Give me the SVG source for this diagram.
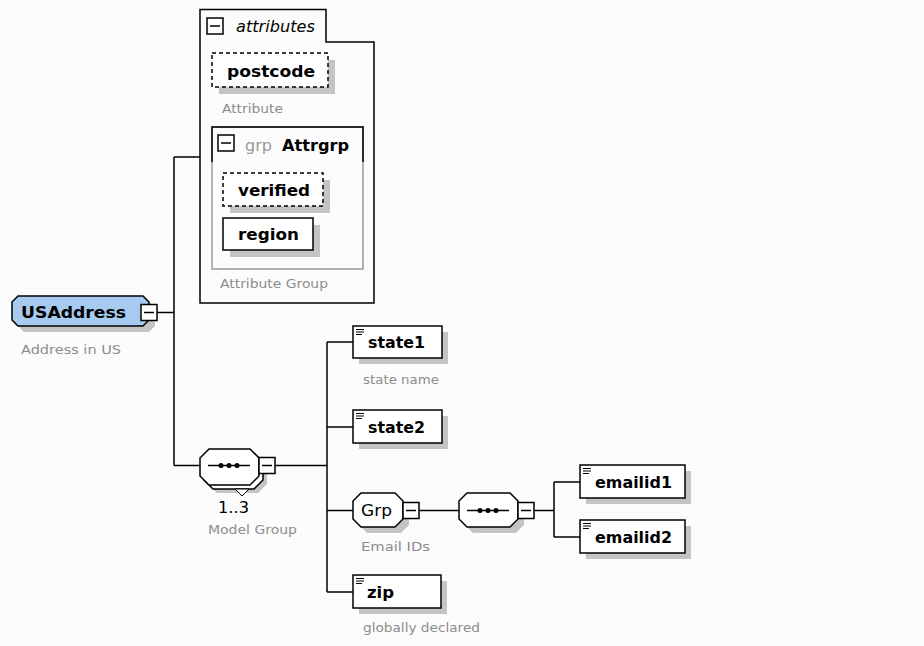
<svg xmlns="http://www.w3.org/2000/svg" xmlns:xlink="http://www.w3.org/1999/xlink" width="924" height="646" viewBox="0 0 924 646">
<style>
.bg{fill:#fcfcfc}
.box{fill:#fff;stroke:#000;stroke-width:1.5}
.dash{stroke-dasharray:4 3}
.sh{fill:#c4c4c4}
.conn{stroke:#000;stroke-width:1.5;fill:none}
.name{font-family:"DejaVu Sans","Liberation Sans",sans-serif;font-weight:bold;font-size:16px;fill:#000}
.note{font-family:"DejaVu Sans","Liberation Sans",sans-serif;font-size:13px;fill:#8c8c8c}
.reg{font-family:"DejaVu Sans","Liberation Sans",sans-serif;font-size:16px;fill:#000}
</style>
<defs>
<g id="minus"><rect x="0" y="0" width="16" height="16" fill="#fff" stroke="#000" stroke-width="1.5"/><line x1="3" y1="8" x2="13" y2="8" stroke="#000" stroke-width="1.5"/></g>
<g id="eicon" stroke="#000" stroke-width="1"><line x1="0" y1="0.5" x2="8" y2="0.5"/><line x1="0" y1="3" x2="8" y2="3"/><line x1="0" y1="5.5" x2="6" y2="5.5"/></g>
</defs>
<rect class="bg" x="0" y="0" width="924" height="646"/>

<g id="connectors">
<line class="conn" x1="157" y1="312.5" x2="174" y2="312.5"/>
<line class="conn" x1="174" y1="157" x2="174" y2="465.5"/>
<line class="conn" x1="174" y1="157" x2="200" y2="157"/>
<line class="conn" x1="174" y1="465.5" x2="200" y2="465.5"/>
<line class="conn" x1="275" y1="465.5" x2="327" y2="465.5"/>
<line class="conn" x1="327" y1="342" x2="327" y2="592"/>
<line class="conn" x1="327" y1="342" x2="353" y2="342"/>
<line class="conn" x1="327" y1="427" x2="353" y2="427"/>
<line class="conn" x1="327" y1="510.5" x2="353" y2="510.5"/>
<line class="conn" x1="327" y1="592" x2="353" y2="592"/>
<line class="conn" x1="419" y1="510.5" x2="459" y2="510.5"/>
<line class="conn" x1="534" y1="510.5" x2="554" y2="510.5"/>
<line class="conn" x1="554" y1="482" x2="554" y2="537"/>
<line class="conn" x1="554" y1="482" x2="580" y2="482"/>
<line class="conn" x1="554" y1="537" x2="580" y2="537"/>
</g>

<g id="attributes">
<path d="M200,9.5 H326 V42 H374 V303 H200 Z" fill="none" stroke="#000" stroke-width="1.5"/>
<use xlink:href="#minus" x="207" y="18"/>
<text x="236" y="32" font-family="DejaVu Sans, sans-serif" font-style="italic" font-size="15" textLength="79" lengthAdjust="spacingAndGlyphs">attributes</text>
</g>

<g id="postcode">
<rect class="sh" x="219" y="60" width="116" height="34"/>
<rect class="box dash" x="212" y="53" width="116" height="34"/>
<text class="name" x="227" y="77" font-size="17" textLength="88" lengthAdjust="spacingAndGlyphs">postcode</text>
<text class="note" x="222" y="113" textLength="61" lengthAdjust="spacingAndGlyphs">Attribute</text>
</g>

<g id="attrgrp">
<rect x="212" y="127" width="151" height="142" fill="none" stroke="#999" stroke-width="1.5"/>
<path d="M212,162 V127 H363 V162" fill="none" stroke="#000" stroke-width="1.5"/>
<use xlink:href="#minus" x="218" y="135"/>
<text x="245" y="151" font-family="DejaVu Sans, sans-serif" font-size="16" fill="#999" textLength="27" lengthAdjust="spacingAndGlyphs">grp</text>
<text class="name" x="282" y="151" font-size="17" textLength="67" lengthAdjust="spacingAndGlyphs">Attrgrp</text>
<text class="note" x="220" y="288" textLength="108" lengthAdjust="spacingAndGlyphs">Attribute Group</text>
</g>

<g id="verified">
<rect class="sh" x="230" y="180" width="100" height="33"/>
<rect class="box dash" x="223" y="173" width="100" height="33"/>
<text class="name" x="238" y="196" textLength="72" lengthAdjust="spacingAndGlyphs">verified</text>
</g>

<g id="region">
<rect class="sh" x="230" y="225" width="90" height="32"/>
<rect class="box" x="223" y="218" width="90" height="32"/>
<text class="name" x="238" y="240" textLength="61" lengthAdjust="spacingAndGlyphs">region</text>
</g>

<g id="USAddress">
<path class="sh" d="M24,302 H149 L155,308 V326 L149,332 H24 L18,326 V308 Z"/>
<path d="M18,296 H143 L149,302 V320 L143,326 H18 L12,320 V302 Z" fill="#a6caf0" stroke="#000" stroke-width="1.5"/>
<text class="name" x="21" y="318" font-size="18" textLength="105" lengthAdjust="spacingAndGlyphs">USAddress</text>
<use xlink:href="#minus" x="141" y="304.5"/>
<text class="note" x="21" y="354" font-size="14" textLength="100" lengthAdjust="spacingAndGlyphs">Address in US</text>
</g>

<g id="modelgroup">
<path class="sh" d="M217,457 H258 L267,466 V484 L258,493 H217 L208,484 V466 Z"/>
<path d="M213,453 H254 L263,462 V480 L254,489 H213 L204,480 V462 Z" fill="#fff" stroke="#000" stroke-width="1.5"/>
<path d="M209,449 H250 L259,458 V476 L250,485 H209 L200,476 V458 Z" fill="#fff" stroke="#000" stroke-width="1.5"/>
<line x1="208" y1="465.5" x2="250" y2="465.5" stroke="#000" stroke-width="1.5"/>
<circle cx="221" cy="465.5" r="2.5"/><circle cx="229" cy="465.5" r="2.5"/><circle cx="237" cy="465.5" r="2.5"/>
<path d="M235,489 H249 L242,496 Z" fill="#fff" stroke="#000" stroke-width="1"/>
<use xlink:href="#minus" x="259" y="457.5"/>
<text class="reg" x="218" y="513" font-size="17" textLength="31" lengthAdjust="spacingAndGlyphs">1..3</text>
<text class="note" x="208" y="534" font-size="14" textLength="89" lengthAdjust="spacingAndGlyphs">Model Group</text>
</g>

<g id="state1">
<rect class="sh" x="359" y="332" width="89" height="32"/>
<rect class="box" x="353" y="326" width="89" height="32"/>
<use xlink:href="#eicon" x="356" y="329"/>
<text class="name" x="368" y="348" textLength="57" lengthAdjust="spacingAndGlyphs">state1</text>
<text class="note" x="363" y="384" font-size="14" textLength="76" lengthAdjust="spacingAndGlyphs">state name</text>
</g>

<g id="state2">
<rect class="sh" x="359" y="416" width="89" height="33"/>
<rect class="box" x="353" y="410" width="89" height="33"/>
<use xlink:href="#eicon" x="356" y="413"/>
<text class="name" x="368" y="433" textLength="57" lengthAdjust="spacingAndGlyphs">state2</text>
</g>

<g id="Grp">
<path class="sh" d="M367,499 H401 L409,507 V525 L401,533 H367 L359,525 V507 Z"/>
<path d="M361,493 H395 L403,501 V519 L395,527 H361 L353,519 V501 Z" fill="#fff" stroke="#000" stroke-width="1.5"/>
<text class="reg" x="361" y="516" textLength="31" lengthAdjust="spacingAndGlyphs">Grp</text>
<use xlink:href="#minus" x="403" y="502.5"/>
<text class="note" x="361" y="551" font-size="14" textLength="69" lengthAdjust="spacingAndGlyphs">Email IDs</text>
</g>

<g id="sequence2">
<path class="sh" d="M473,499 H516 L524,507 V525 L516,533 H473 L465,525 V507 Z"/>
<path d="M467,493 H510 L518,501 V519 L510,527 H467 L459,519 V501 Z" fill="#fff" stroke="#000" stroke-width="1.5"/>
<line x1="467" y1="510.5" x2="509" y2="510.5" stroke="#000" stroke-width="1.5"/>
<circle cx="480" cy="510.5" r="2.5"/><circle cx="488" cy="510.5" r="2.5"/><circle cx="496" cy="510.5" r="2.5"/>
<use xlink:href="#minus" x="518" y="502.5"/>
</g>

<g id="emailid1">
<rect class="sh" x="586" y="471" width="105" height="33"/>
<rect class="box" x="580" y="465" width="105" height="33"/>
<use xlink:href="#eicon" x="583" y="468"/>
<text class="name" x="595" y="488" textLength="77" lengthAdjust="spacingAndGlyphs">emailid1</text>
</g>

<g id="emailid2">
<rect class="sh" x="586" y="526" width="105" height="33"/>
<rect class="box" x="580" y="520" width="105" height="33"/>
<use xlink:href="#eicon" x="583" y="523"/>
<text class="name" x="595" y="543" textLength="77" lengthAdjust="spacingAndGlyphs">emailid2</text>
</g>

<g id="zip">
<rect class="sh" x="359" y="581" width="88" height="33"/>
<rect class="box" x="353" y="575" width="88" height="33"/>
<use xlink:href="#eicon" x="356" y="578"/>
<text class="name" x="367" y="598" textLength="27" lengthAdjust="spacingAndGlyphs">zip</text>
<text class="note" x="363" y="632" font-size="14" textLength="117" lengthAdjust="spacingAndGlyphs">globally declared</text>
</g>
</svg>
